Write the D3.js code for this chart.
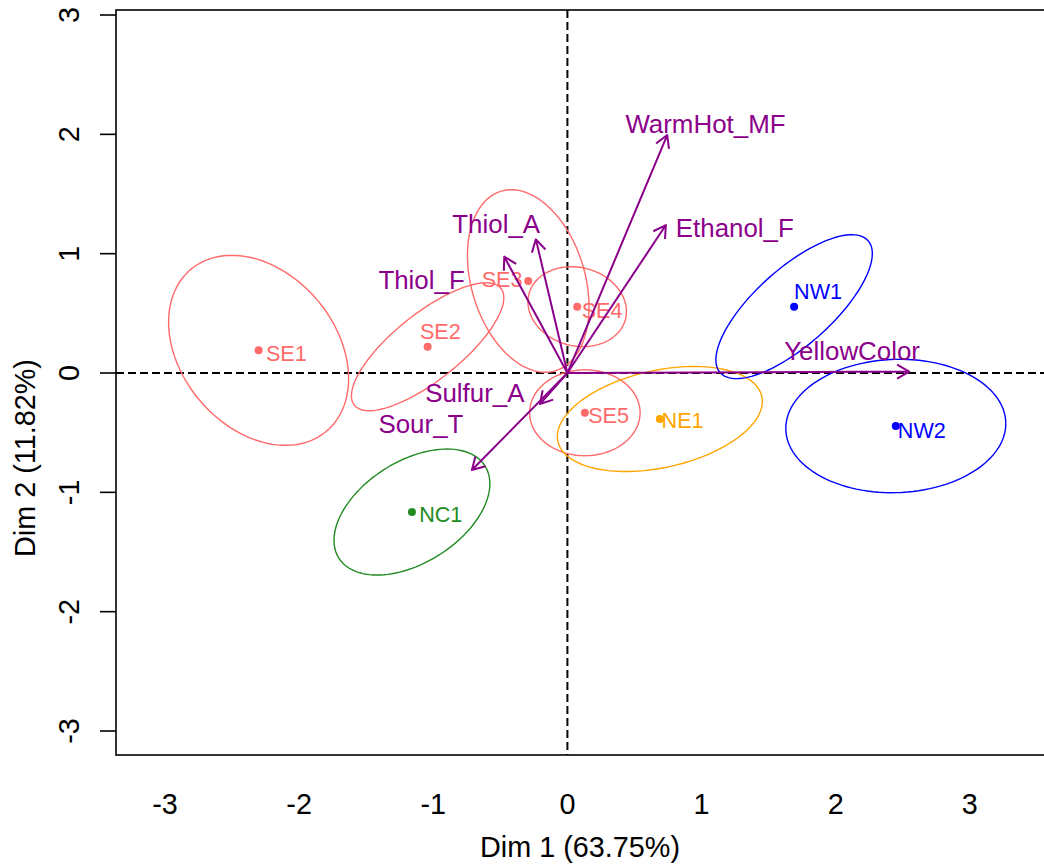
<!DOCTYPE html>
<html>
<head>
<meta charset="utf-8">
<script src="https://cdn.jsdelivr.net/npm/d3@7"></script>
<style>
  body { margin: 0; background: #fff; }
  text { font-family: "Liberation Sans", Arial, sans-serif; }
</style>
</head>
<body>
<svg width="1044" height="866"></svg>
<script>
// products (individuals)
const products = ["SE1", "SE2", "SE3", "SE4", "SE5", "NE1", "NW1", "NW2", "NC1"];
const prodX = [-2.302, -1.042, -0.292, 0.073, 0.130, 0.689, 1.690, 2.448, -1.159];
const prodY = [0.190, 0.220, 0.771, 0.556, -0.333, -0.385, 0.556, -0.444, -1.165];
const prodColor = ["#FF6A6A", "#FF6A6A", "#FF6A6A", "#FF6A6A", "#FF6A6A", "#FFA500", "#0000FF", "#0000FF", "#228B22"];
// label anchor (start, baseline) as placed by the original autoLab
const prodLabX = [-2.247, -1.099, -0.639, 0.106, 0.155, 0.702, 1.690, 2.463, -1.105];
const prodLabY = [0.101, 0.282, 0.718, 0.457, -0.416, -0.463, 0.620, -0.547, -1.246];

// confidence ellipses: half width, half height, y offset of rightmost point
const ellHW = [0.671, 0.568, 0.453, 0.367, 0.412, 0.764, 0.583, 0.820, 0.581];
const ellHH = [0.796, 0.536, 0.765, 0.335, 0.360, 0.440, 0.603, 0.559, 0.528];
const ellK = [-0.237, 0.411, -0.213, -0.040, 0.000, 0.147, 0.445, 0.020, 0.237];

// variables (arrows)
const variables = ["WarmHot_MF", "Ethanol_F", "Thiol_A", "Thiol_F", "YellowColor", "Sulfur_A", "Sour_T"];
const varX = [0.744, 0.734, -0.235, -0.471, 2.548, -0.205, -0.712];
const varY = [1.994, 1.240, 1.120, 0.975, 0.012, -0.260, -0.813];
const varLabX = [1.029, 1.248, -0.531, -1.087, 2.122, -0.690, -1.092];
const varLabY = [2.009, 1.142, 1.171, 0.701, 0.109, -0.241, -0.503];

const xTicks = [-3, -2, -1, 0, 1, 2, 3];
const yTicks = [-3, -2, -1, 0, 1, 2, 3];
const xTitle = "Dim 1 (63.75%)";
const yTitle = "Dim 2 (11.82%)";

const pLeft = 116, pRight = 1060, pTop = 10, pBottom = 755;
const x = d3.scaleLinear().domain([-3.365, 3.672]).range([pLeft, pRight]);
const y = d3.scaleLinear().domain([-3.201, 3.042]).range([pBottom, pTop]);

const svg = d3.select("svg");
const varCol = "#8B008B";

svg.append("defs").append("clipPath").attr("id", "clip")
  .append("rect").attr("x", pLeft).attr("y", pTop)
  .attr("width", pRight - pLeft).attr("height", pBottom - pTop);

const plot = svg.append("g").attr("clip-path", "url(#clip)");

// reference lines
plot.append("line")
  .attr("x1", pLeft).attr("x2", pRight).attr("y1", y(0)).attr("y2", y(0))
  .attr("stroke", "#000").attr("stroke-width", 2).attr("stroke-dasharray", "8,4");
plot.append("line")
  .attr("x1", x(0)).attr("x2", x(0)).attr("y1", pTop).attr("y2", pBottom)
  .attr("stroke", "#000").attr("stroke-width", 2).attr("stroke-dasharray", "8,4");

// ellipses
const line = d3.line().x(d => x(d[0])).y(d => y(d[1]));
products.forEach((p, i) => {
  const m = Math.sqrt(ellHH[i] * ellHH[i] - ellK[i] * ellK[i]);
  const pts = d3.range(0, 121).map(j => {
    const t = j / 120 * 2 * Math.PI;
    return [prodX[i] + ellHW[i] * Math.cos(t), prodY[i] + ellK[i] * Math.cos(t) + m * Math.sin(t)];
  });
  plot.append("path").attr("d", line(pts))
    .attr("fill", "none").attr("stroke", prodColor[i]).attr("stroke-width", 1.4);
});

// points + labels
plot.selectAll(".pt").data(products).enter().append("circle")
  .attr("class", "pt")
  .attr("cx", (d, i) => x(prodX[i])).attr("cy", (d, i) => y(prodY[i]))
  .attr("r", 4).attr("fill", (d, i) => prodColor[i]);

plot.selectAll(".plab").data(products).enter().append("text")
  .attr("class", "plab")
  .attr("x", (d, i) => x(prodLabX[i])).attr("y", (d, i) => y(prodLabY[i]))
  .attr("font-size", 21.6).attr("fill", (d, i) => prodColor[i])
  .text(d => d);

// arrows
function arrowPath(i) {
  const x0 = x(0), y0 = y(0), x1 = x(varX[i]), y1 = y(varY[i]);
  const a = Math.atan2(y1 - y0, x1 - x0);
  const L = 14, w = Math.PI / 6;
  const p = d3.path();
  p.moveTo(x0, y0); p.lineTo(x1, y1);
  p.moveTo(x1 - L * Math.cos(a - w), y1 - L * Math.sin(a - w));
  p.lineTo(x1, y1);
  p.lineTo(x1 - L * Math.cos(a + w), y1 - L * Math.sin(a + w));
  return p.toString();
}
plot.selectAll(".arrow").data(variables).enter().append("path")
  .attr("class", "arrow")
  .attr("d", (d, i) => arrowPath(i))
  .attr("fill", "none").attr("stroke", varCol).attr("stroke-width", 2)
  .attr("stroke-linejoin", "round");

plot.selectAll(".vlab").data(variables).enter().append("text")
  .attr("class", "vlab")
  .attr("x", (d, i) => x(varLabX[i])).attr("y", (d, i) => y(varLabY[i]))
  .attr("text-anchor", "middle")
  .attr("font-size", 25.9).attr("fill", varCol)
  .text(d => d);

// box
svg.append("rect").attr("x", pLeft).attr("y", pTop)
  .attr("width", pRight - pLeft).attr("height", pBottom - pTop)
  .attr("fill", "none").attr("stroke", "#000").attr("stroke-width", 1.6);

// left axis
const yAxis = svg.append("g");
yAxis.selectAll("line").data(yTicks).enter().append("line")
  .attr("x1", pLeft - 16).attr("x2", pLeft)
  .attr("y1", d => y(d)).attr("y2", d => y(d))
  .attr("stroke", "#000").attr("stroke-width", 1.6);
yAxis.selectAll("text").data(yTicks).enter().append("text")
  .attr("transform", d => `translate(79,${y(d)}) rotate(-90)`)
  .attr("text-anchor", "middle").attr("font-size", 28.8)
  .text(d => d);

// bottom tick labels (no tick marks)
svg.append("g").selectAll("text").data(xTicks).enter().append("text")
  .attr("x", d => x(d)).attr("y", 814)
  .attr("text-anchor", "middle").attr("font-size", 28.8)
  .text(d => d);

svg.append("text").attr("x", 580).attr("y", 857)
  .attr("text-anchor", "middle").attr("font-size", 28.8).text(xTitle);
svg.append("text")
  .attr("transform", "translate(35,458) rotate(-90)")
  .attr("text-anchor", "middle").attr("font-size", 28.8).text(yTitle);
</script>
</body>
</html>
